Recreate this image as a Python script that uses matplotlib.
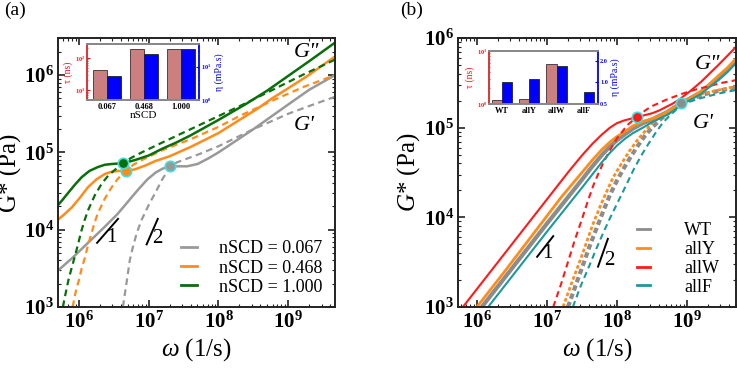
import numpy as np
import matplotlib
matplotlib.use('Agg')
import matplotlib.pyplot as plt
from matplotlib.lines import Line2D
from matplotlib.ticker import LogLocator, NullFormatter, FuncFormatter, FixedLocator, FixedFormatter

plt.rcParams['font.family'] = ['Liberation Serif', 'DejaVu Serif']
plt.rcParams['mathtext.fontset'] = 'custom'
plt.rcParams['mathtext.rm'] = 'Liberation Serif'
plt.rcParams['mathtext.it'] = 'Liberation Serif:italic'
plt.rcParams['mathtext.bf'] = 'Liberation Serif:bold'

# ---------------- panel (a) data (log10 values) ----------------
a_gray_Gpp_lw = [5.66, 5.90, 6.13, 6.35, 6.55, 6.70, 6.85, 6.98, 7.10, 7.20, 7.30, 7.42, 7.55, 7.70, 7.85, 8.00, 8.25, 8.50, 8.75, 9.00, 9.30, 9.67]
a_gray_Gpp_lg = [3.44, 3.63, 3.83, 4.02, 4.20, 4.36, 4.52, 4.65, 4.74, 4.79, 4.82, 4.82, 4.82, 4.85, 4.92, 5.00, 5.15, 5.30, 5.46, 5.62, 5.81, 6.00]
a_gray_Gp_lw = [6.63, 6.68, 6.73, 6.78, 6.83, 6.90, 7.00, 7.09, 7.20, 7.30, 7.40, 7.55, 7.73, 8.00, 8.25, 8.50, 8.75, 9.00, 9.30, 9.67]
a_gray_Gp_lg = [3.00, 3.30, 3.61, 3.80, 3.96, 4.13, 4.32, 4.47, 4.66, 4.80, 4.87, 4.92, 4.98, 5.08, 5.19, 5.30, 5.40, 5.50, 5.60, 5.72]

a_orange_Gpp_lw = [5.66, 5.78, 5.90, 6.02, 6.13, 6.25, 6.37, 6.47, 6.56, 6.67, 6.80, 6.95, 7.10, 7.30, 7.60, 8.00, 8.30, 8.55, 8.77, 9.00, 9.26, 9.45, 9.67]
a_orange_Gpp_lg = [4.10, 4.19, 4.29, 4.42, 4.55, 4.65, 4.72, 4.75, 4.76, 4.76, 4.78, 4.83, 4.89, 4.95, 5.07, 5.25, 5.42, 5.56, 5.70, 5.83, 5.98, 6.10, 6.24]
a_orange_Gp_lw = [5.91, 5.95, 6.00, 6.04, 6.09, 6.13, 6.18, 6.22, 6.27, 6.37, 6.47, 6.55, 6.61, 6.67, 6.78, 6.90, 7.20, 7.60, 8.00, 8.30, 8.80, 9.20, 9.67]
a_orange_Gp_lg = [3.00, 3.18, 3.35, 3.50, 3.65, 3.80, 3.95, 4.08, 4.21, 4.40, 4.55, 4.65, 4.71, 4.76, 4.84, 4.90, 5.03, 5.17, 5.33, 5.47, 5.68, 5.84, 6.00]

a_green_Gpp_lw = [5.66, 5.75, 5.84, 5.94, 6.04, 6.15, 6.27, 6.37, 6.47, 6.63, 6.80, 7.00, 7.20, 7.40, 7.60, 8.00, 8.40, 8.70, 9.00, 9.30, 9.67]
a_green_Gpp_lg = [4.28, 4.37, 4.47, 4.58, 4.68, 4.76, 4.81, 4.84, 4.85, 4.86, 4.90, 4.96, 5.05, 5.13, 5.22, 5.42, 5.63, 5.80, 5.99, 6.18, 6.42]
a_green_Gp_lw = [5.77, 5.81, 5.85, 5.90, 5.94, 5.99, 6.03, 6.08, 6.13, 6.23, 6.33, 6.42, 6.51, 6.63, 6.75, 6.90, 7.20, 7.60, 8.00, 8.40, 8.80, 9.20, 9.67]
a_green_Gp_lg = [3.00, 3.18, 3.35, 3.52, 3.65, 3.82, 3.97, 4.12, 4.25, 4.45, 4.60, 4.70, 4.77, 4.86, 4.93, 5.00, 5.13, 5.30, 5.47, 5.64, 5.82, 6.00, 6.20]

a_cross_lw = [7.30, 6.67, 6.63]
a_cross_lg = [4.82, 4.76, 4.86]

a_labels = ['nSCD = 0.067', 'nSCD = 0.468', 'nSCD = 1.000']
a_colors = ['#999999', '#FF8C1A', '#0A6E0A']

a_inset_cats = ['0.067', '0.468', '1.000']
a_inset_tau = [42, 187, 195]
a_inset_eta = [5.3, 24, 35]

# ---------------- panel (b) data ----------------
b_gray_Gpp_lw = [6.07, 6.50, 7.00, 7.50, 7.65, 7.79, 7.90, 8.00, 8.12, 8.23, 8.37, 8.50, 8.60, 8.71, 8.81, 8.91, 9.05, 9.19, 9.30, 9.45, 9.58, 9.70]
b_gray_Gpp_lg = [3.00, 3.43, 3.93, 4.42, 4.57, 4.70, 4.79, 4.86, 4.93, 4.99, 5.05, 5.09, 5.13, 5.17, 5.22, 5.27, 5.33, 5.39, 5.46, 5.56, 5.65, 5.75]
b_gray_Gp_lw = [7.30, 7.41, 7.52, 7.62, 7.72, 7.81, 7.90, 8.00, 8.10, 8.20, 8.30, 8.40, 8.50, 8.63, 8.76, 8.91, 9.07, 9.23, 9.45, 9.70]
b_gray_Gp_lg = [3.00, 3.24, 3.48, 3.70, 3.90, 4.08, 4.25, 4.41, 4.55, 4.68, 4.80, 4.91, 5.00, 5.10, 5.18, 5.27, 5.32, 5.37, 5.41, 5.45]

b_orange_Gpp_lw = [6.00, 6.40, 6.80, 7.20, 7.50, 7.65, 7.79, 7.90, 8.00, 8.12, 8.23, 8.37, 8.50, 8.60, 8.71, 8.81, 8.91, 9.05, 9.19, 9.30, 9.45, 9.58, 9.70]
b_orange_Gpp_lg = [3.00, 3.40, 3.81, 4.22, 4.50, 4.64, 4.76, 4.84, 4.90, 4.96, 5.02, 5.07, 5.10, 5.13, 5.17, 5.22, 5.27, 5.33, 5.40, 5.47, 5.58, 5.67, 5.77]
b_orange_Gp_lw = [7.23, 7.35, 7.47, 7.57, 7.66, 7.76, 7.86, 7.95, 8.05, 8.17, 8.29, 8.40, 8.50, 8.63, 8.76, 8.91, 9.07, 9.23, 9.45, 9.70]
b_orange_Gp_lg = [3.00, 3.26, 3.51, 3.73, 3.93, 4.12, 4.30, 4.45, 4.58, 4.73, 4.86, 4.96, 5.05, 5.13, 5.20, 5.27, 5.33, 5.38, 5.42, 5.46]

b_red_Gpp_lw = [5.80, 6.20, 6.60, 7.00, 7.30, 7.50, 7.65, 7.78, 7.90, 8.00, 8.10, 8.20, 8.29, 8.40, 8.50, 8.60, 8.70, 8.80, 8.90, 9.05, 9.20, 9.45, 9.70]
b_red_Gpp_lg = [3.00, 3.40, 3.80, 4.20, 4.50, 4.69, 4.82, 4.92, 5.00, 5.05, 5.08, 5.10, 5.12, 5.14, 5.16, 5.19, 5.23, 5.27, 5.32, 5.41, 5.51, 5.70, 5.90]
b_red_Gp_lw = [7.09, 7.20, 7.30, 7.40, 7.50, 7.58, 7.66, 7.73, 7.80, 7.90, 8.00, 8.15, 8.29, 8.40, 8.50, 8.70, 8.90, 9.10, 9.30, 9.50, 9.70]
b_red_Gp_lg = [3.00, 3.25, 3.50, 3.75, 3.98, 4.17, 4.35, 4.48, 4.60, 4.75, 4.88, 5.03, 5.12, 5.19, 5.24, 5.31, 5.37, 5.42, 5.46, 5.50, 5.53]

b_teal_Gpp_lw = [6.16, 6.60, 7.00, 7.50, 7.65, 7.79, 7.90, 8.00, 8.12, 8.23, 8.37, 8.50, 8.60, 8.71, 8.81, 8.91, 9.05, 9.19, 9.30, 9.45, 9.58, 9.70]
b_teal_Gpp_lg = [3.00, 3.44, 3.84, 4.33, 4.48, 4.62, 4.72, 4.80, 4.88, 4.94, 5.00, 5.06, 5.10, 5.14, 5.19, 5.25, 5.31, 5.37, 5.44, 5.53, 5.62, 5.72]
b_teal_Gp_lw = [7.37, 7.48, 7.60, 7.70, 7.80, 7.90, 8.00, 8.12, 8.23, 8.34, 8.45, 8.55, 8.65, 8.76, 8.86, 9.00, 9.20, 9.45, 9.70]
b_teal_Gp_lg = [3.00, 3.23, 3.45, 3.64, 3.82, 3.99, 4.15, 4.34, 4.52, 4.68, 4.82, 4.94, 5.05, 5.14, 5.21, 5.28, 5.33, 5.38, 5.42]

b_cross_lw = [8.29, 8.91]
b_cross_lg = [5.12, 5.27]
b_cross_colors = ['#FF1A1A', '#8C8C8C']

b_labels = ['WT', 'allY', 'allW', 'allF']
b_colors = ['#8C8C8C', '#FF8C1A', '#FF1A1A', '#1A9A9A']

b_inset_cats = ['WT', 'allY', 'allW', 'allF']
b_inset_tau = [1.19, 1.25, 5.8, 1.06]
b_inset_eta = [1.01, 1.11, 1.70, 0.74]

# slope guides (log10 coordinates)
a_slope1 = ([6.26, 6.56], [3.83, 4.14])
a_slope2 = ([6.97, 7.13], [3.81, 4.14])
b_slope1 = ([6.86, 7.09], [3.56, 3.79])
b_slope2 = ([7.73, 7.87], [3.45, 3.76])

P = lambda v: 10 ** np.asarray(v, dtype=float)

fig = plt.figure(figsize=(7.37, 3.68), dpi=100)
axA = fig.add_axes([58 / 737, 1 - 307 / 368, 277 / 737, 269 / 368])
axB = fig.add_axes([458 / 737, 1 - 307 / 368, 278 / 737, 269 / 368])

cyan = '#3FE0E0'


def style_main(ax):
    ax.set_xscale('log')
    ax.set_yscale('log')
    for s in ax.spines.values():
        s.set_linewidth(1.4)
        s.set_color('#222222')
    ax.tick_params(which='both', direction='in', top=True, right=True, color='#222222')
    ax.tick_params(which='major', length=5, width=1.2, labelsize=15, pad=3)
    ax.tick_params(which='minor', length=2.5, width=0.8)
    ax.xaxis.set_major_locator(LogLocator(base=10, numticks=20))
    ax.yaxis.set_major_locator(LogLocator(base=10, numticks=20))
    ax.xaxis.set_minor_locator(LogLocator(base=10, subs=np.arange(2, 10), numticks=100))
    ax.yaxis.set_minor_locator(LogLocator(base=10, subs=np.arange(2, 10), numticks=100))
    ax.xaxis.set_minor_formatter(NullFormatter())
    ax.yaxis.set_minor_formatter(NullFormatter())
    fmt = FuncFormatter(lambda v, p: r'$\mathbf{10^{%d}}$' % int(round(np.log10(v))))
    ax.xaxis.set_major_formatter(fmt)
    ax.yaxis.set_major_formatter(fmt)


# ---------------- panel (a) ----------------
style_main(axA)
a_curves = [
    (a_gray_Gpp_lw, a_gray_Gpp_lg, a_gray_Gp_lw, a_gray_Gp_lg),
    (a_orange_Gpp_lw, a_orange_Gpp_lg, a_orange_Gp_lw, a_orange_Gp_lg),
    (a_green_Gpp_lw, a_green_Gpp_lg, a_green_Gp_lw, a_green_Gp_lg),
]
handles = []
for (xw, yg, xw2, yg2), c, lab in zip(a_curves, a_colors, a_labels):
    axA.plot(P(xw), P(yg), '-', color=c, lw=1.8)
    axA.plot(P(xw2), P(yg2), '--', color=c, lw=1.6, dashes=(3, 2))
    handles.append(Line2D([], [], color=c, lw=2.0, label=lab))
for xw, yg, c in zip(a_cross_lw, a_cross_lg, a_colors):
    axA.plot(P([xw]), P([yg]), 'o', ms=7.5, mfc=c, mec=cyan, mew=1.2, zorder=5)
axA.plot(P(a_slope1[0]), P(a_slope1[1]), 'k-', lw=1.4)
axA.plot(P(a_slope2[0]), P(a_slope2[1]), 'k-', lw=1.4)
axA.text(P(6.47), P(3.90), '1', fontsize=15, ha='center', va='center')
axA.text(P(7.12), P(3.88), '2', fontsize=15, ha='center', va='center')
axA.text(P(9.26), P(6.29), 'G"', fontsize=16, style='italic', ha='center', va='center')
axA.text(P(9.23), P(5.35), "G'", fontsize=16, style='italic', ha='center', va='center')
axA.set_xlim(P(5.70), P(9.67))
axA.set_ylim(P(3.0), P(6.48))
axA.set_xlabel(r'$\omega$ (1/s)', fontsize=18, labelpad=3)
axA.set_ylabel('G* (Pa)', fontsize=18, labelpad=1)
axA.legend(handles=handles, loc='lower right', bbox_to_anchor=(1.0, -0.005), frameon=False,
           fontsize=13, handlelength=0.9, handletextpad=1.2, labelspacing=0.12, borderaxespad=0.3)

# ---------------- panel (b) ----------------
style_main(axB)
b_curves = [
    (b_gray_Gpp_lw, b_gray_Gpp_lg, b_gray_Gp_lw, b_gray_Gp_lg, 3.0),
    (b_orange_Gpp_lw, b_orange_Gpp_lg, b_orange_Gp_lw, b_orange_Gp_lg, 2.0),
    (b_red_Gpp_lw, b_red_Gpp_lg, b_red_Gp_lw, b_red_Gp_lg, 1.5),
    (b_teal_Gpp_lw, b_teal_Gpp_lg, b_teal_Gp_lw, b_teal_Gp_lg, 1.5),
]
handlesB = []
for (xw, yg, xw2, yg2, lw), c, lab in zip(b_curves, b_colors, b_labels):
    axB.plot(P(xw), P(yg), '-', color=c, lw=lw)
    axB.plot(P(xw2), P(yg2), '--', color=c, lw=lw, dashes=(1.3, 0.8) if lw > 1.8 else (3, 2))
    handlesB.append(Line2D([], [], color=c, lw=2.0, label=lab))
for xw, yg, c in zip(b_cross_lw, b_cross_lg, b_cross_colors):
    axB.plot(P([xw]), P([yg]), 'o', ms=7.5, mfc=c, mec=cyan, mew=1.2, zorder=5)
axB.plot(P(b_slope1[0]), P(b_slope1[1]), 'k-', lw=1.4)
axB.plot(P(b_slope2[0]), P(b_slope2[1]), 'k-', lw=1.4)
axB.text(P(7.0), P(3.6), '1', fontsize=15, ha='center', va='center')
axB.text(P(7.89), P(3.52), '2', fontsize=15, ha='center', va='center')
axB.text(P(9.29), P(5.70), 'G"', fontsize=16, style='italic', ha='center', va='center')
axB.text(P(9.23), P(5.05), "G'", fontsize=16, style='italic', ha='center', va='center')
axB.set_xlim(P(5.73), P(9.70))
axB.set_ylim(P(3.0), P(6.0))
axB.set_xlabel(r'$\omega$ (1/s)', fontsize=18, labelpad=3)
axB.set_ylabel(r'$G$* (Pa)', fontsize=18, labelpad=1)
axB.legend(handles=handlesB, loc='lower right', bbox_to_anchor=(0.985, -0.005), frameon=False,
           fontsize=13, handlelength=0.7, handletextpad=1.9, labelspacing=0.1, borderaxespad=0.3)

# ---------------- insets ----------------
tau_c = '#CC7F7F'
eta_c = '#0000FF'


def make_inset(rect, cats, tau, eta, tau_lim, eta_lim, eta_ticks, eta_ticklabels, xlim, xlabel):
    ax = fig.add_axes(rect)
    ax2 = ax.twinx()
    x = np.arange(len(cats))
    w = 0.37
    ax.set_yscale('log')
    ax2.set_yscale('log')
    ax.bar(x - w / 2, tau, w, color=tau_c, edgecolor='#333333', lw=0.6)
    ax2.bar(x + w / 2, eta, w, color=eta_c, edgecolor='#222222', lw=0.6)
    ax.set_ylim(*tau_lim)
    ax2.set_ylim(*eta_lim)
    ax.set_xlim(*xlim)
    ax.set_xticks(x)
    ax.set_xticklabels(cats, fontsize=6, fontweight='bold')
    ax.tick_params(axis='x', length=0, pad=2)
    for a in (ax, ax2):
        for s in a.spines.values():
            s.set_linewidth(1.3)
            s.set_color('#888888')
    ax.spines['left'].set_color('#DD2222')
    ax2.spines['left'].set_visible(False)
    ax2.spines['right'].set_color(eta_c)
    ax.spines['right'].set_visible(False)
    ax.tick_params(axis='y', which='both', colors='#DD2222', labelsize=4.5, direction='in', length=2, pad=1.5)
    ax.tick_params(axis='y', which='minor', length=1)
    ax.yaxis.set_minor_formatter(NullFormatter())
    ax2.tick_params(axis='y', which='both', colors=eta_c, labelsize=4.5, direction='in', length=2, pad=1.5)
    ax2.tick_params(axis='y', which='minor', length=1)
    if eta_ticks is not None:
        ax2.yaxis.set_major_locator(FixedLocator(eta_ticks))
        ax2.yaxis.set_major_formatter(FixedFormatter(eta_ticklabels))
        ax2.yaxis.set_minor_locator(FixedLocator([]))
    ax2.yaxis.set_minor_formatter(NullFormatter())
    ax.set_ylabel('τ (ns)', color='#DD2222', fontsize=7, labelpad=1)
    ax2.set_ylabel('η (mPa.s)', color=eta_c, fontsize=7, labelpad=2)
    for t in ax.get_yticklabels() + ax2.get_yticklabels():
        t.set_fontweight('bold')
    if xlabel:
        ax.set_xlabel(xlabel, fontsize=8, labelpad=0)
    return ax, ax2


make_inset([87 / 737, 1 - 100 / 368, 112 / 737, 56 / 368], a_inset_cats, a_inset_tau, a_inset_eta,
           (4.9, 273), (1.0, 48), None, None, (-0.54, 2.49), 'nSCD')
make_inset([489 / 737, 1 - 104 / 368, 109 / 737, 53 / 368], b_inset_cats, b_inset_tau, b_inset_eta,
           (1.0, 10.0), (0.5, 2.73), [0.5, 1.0, 2.0], ['0.5', '1.0', '2.0'], (-0.48, 3.52), None)

fig.text(4 / 737, 1 - 2 / 368, '(a)', fontsize=14, ha='left', va='top')
fig.text(400 / 737, 1 - 2 / 368, '(b)', fontsize=14, ha='left', va='top')

fig.savefig('out.png', dpi=100)
